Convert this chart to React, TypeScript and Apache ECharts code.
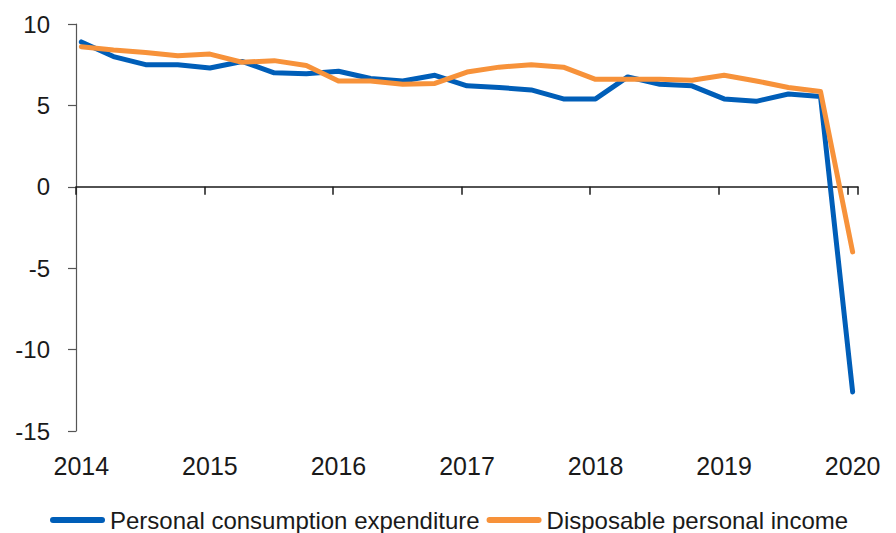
import React, { useEffect, useRef } from "react";
import * as echarts from "echarts";

// Quarterly observations (first month of each quarter)
const quarterDates = [
  "2014-01", "2014-04", "2014-07", "2014-10",
  "2015-01", "2015-04", "2015-07", "2015-10",
  "2016-01", "2016-04", "2016-07", "2016-10",
  "2017-01", "2017-04", "2017-07", "2017-10",
  "2018-01", "2018-04", "2018-07", "2018-10",
  "2019-01", "2019-04", "2019-07", "2019-10",
  "2020-01",
];

const pceValues = [
  8.9, 8.0, 7.5, 7.5, 7.3, 7.7, 7.0, 6.95, 7.1, 6.65, 6.5, 6.85,
  6.2, 6.1, 5.95, 5.4, 5.4, 6.75, 6.3, 6.2, 5.4, 5.25, 5.7, 5.55, -12.6,
];

const dpiValues = [
  8.6, 8.4, 8.25, 8.05, 8.15, 7.65, 7.75, 7.45, 6.5, 6.5, 6.3, 6.35,
  7.05, 7.35, 7.5, 7.35, 6.6, 6.6, 6.6, 6.55, 6.85, 6.5, 6.1, 5.85, -4.0,
];

const yearLabels = ["2014", "2015", "2016", "2017", "2018", "2019", "2020"];

const seriesNames = ["Personal consumption expenditure", "Disposable personal income"];

const BASE_YEAR = 2014;
// months since Jan 2014, point centred in its month slot
const monthPos = (d: string) => {
  const [y, m] = d.split("-").map(Number);
  return (y - BASE_YEAR) * 12 + (m - 1) + 0.5;
};

export default function App() {
  const ref = useRef<HTMLDivElement>(null);

  useEffect(() => {
    if (!ref.current) return;
    const chart = echarts.init(ref.current, null, { renderer: "svg" });
    const font = "'Liberation Sans', Arial, sans-serif";
    const xMax = (yearLabels.length - 1) * 12 + 1;

    chart.setOption({
      animation: false,
      grid: { left: 76, right: 38, top: 24, bottom: 102, containLabel: false },
      legend: {
        left: 50,
        top: 508,
        padding: 0,
        itemWidth: 55,
        itemHeight: 6,
        itemGap: 7,
        icon: "path://M3,0 L52,0 A3,3 0 0 1 52,6 L3,6 A3,3 0 0 1 3,0 Z",
        textStyle: { fontFamily: font, fontSize: 24, lineHeight: 24, color: "#1a1a1a" },
        data: seriesNames,
      },
      xAxis: [
        {
          type: "value",
          min: 0,
          max: xMax,
          interval: 12,
          position: "bottom",
          axisLine: { onZero: true, lineStyle: { color: "#1a1a1a", width: 1.5 } },
          axisTick: { show: true, inside: false, length: 8, lineStyle: { color: "#1a1a1a", width: 1.5 } },
          axisLabel: { show: false },
          splitLine: { show: false },
        },
        {
          type: "value",
          min: 0,
          max: xMax,
          position: "bottom",
          axisLine: { show: false, onZero: false },
          axisTick: { show: false },
          splitLine: { show: false },
          axisLabel: {
            show: true,
            customValues: yearLabels.map((_, i) => i * 12 + 0.5),
            formatter: (v: number) => yearLabels[Math.floor(v / 12)] ?? "",
            margin: 22,
            fontFamily: font,
            fontSize: 25,
            color: "#1a1a1a",
            showMinLabel: true,
            showMaxLabel: true,
            hideOverlap: false,
          },
        },
      ],
      yAxis: {
        type: "value",
        min: -15,
        max: 10,
        interval: 5,
        axisLine: { show: true, onZero: false, lineStyle: { color: "#555", width: 1.2 } },
        axisTick: { show: true, length: 8, lineStyle: { color: "#555", width: 1.2 } },
        splitLine: { show: false },
        axisLabel: {
          margin: 26,
          fontFamily: font,
          fontSize: 24,
          color: "#1a1a1a",
        },
      },
      series: [
        {
          name: seriesNames[0],
          type: "line",
          xAxisIndex: 0,
          symbol: "none",
          color: "#005EB8",
          lineStyle: { width: 5, cap: "round", join: "round", color: "#005EB8" },
          data: quarterDates.map((d, i) => [monthPos(d), pceValues[i]]),
        },
        {
          name: seriesNames[1],
          type: "line",
          xAxisIndex: 0,
          symbol: "none",
          color: "#F7923A",
          lineStyle: { width: 5, cap: "round", join: "round", color: "#F7923A" },
          data: quarterDates.map((d, i) => [monthPos(d), dpiValues[i]]),
        },
      ],
    });

    return () => chart.dispose();
  }, []);

  return <div ref={ref} style={{ width: 896, height: 533, position: "absolute", left: 0, top: 0 }} />;
}
